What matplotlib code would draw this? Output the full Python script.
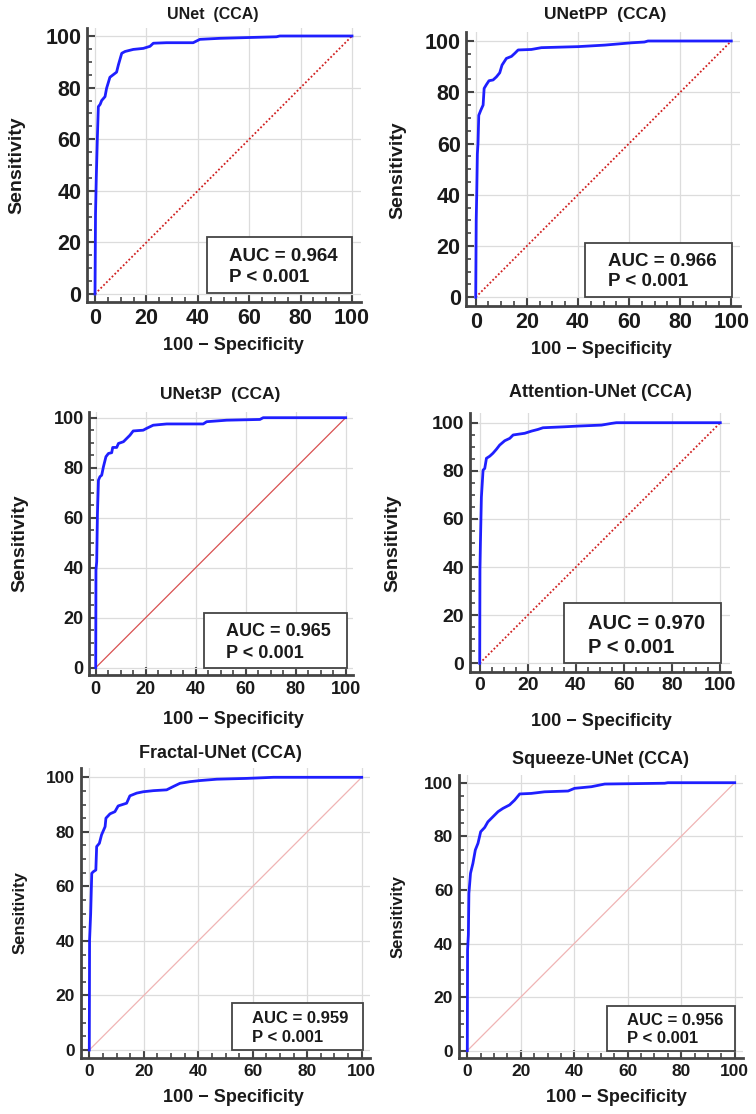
import numpy as np
import matplotlib.pyplot as plt

plt.rcParams['font.family'] = ['Liberation Sans', 'DejaVu Sans']
plt.rcParams['font.weight'] = 'bold'

W, H = 756, 1114

titles = ["UNet  (CCA)", "UNetPP  (CCA)", "UNet3P  (CCA)",
          "Attention-UNet (CCA)", "Fractal-UNet (CCA)", "Squeeze-UNet (CCA)"]
auc_vals = ["0.964", "0.966", "0.965", "0.970", "0.959", "0.956"]

# ROC curves: 100 - specificity, sensitivity
fpr_unet = [0, 0.2, 0.5, 0.9, 1.3, 2.0, 2.6, 3.9, 4.5, 5.8, 7.1, 8.4, 9.1, 10.4, 11.7,
            14.9, 18.8, 21.4, 22.7, 27.8, 38.2, 40.8, 48.6, 70.6, 71.9, 100]
tpr_unet = [0, 31, 45, 60, 72.6, 73.5, 75, 76.5, 79.7, 84, 85, 86, 88.8, 93.3, 94,
            94.8, 95.2, 96, 97.2, 97.4, 97.4, 98.7, 99.1, 99.7, 100, 100]

fpr_unetpp = [0, 0.2, 0.4, 0.65, 0.9, 1.2, 2.0, 2.9, 3.3, 4.2, 5.2, 6.8, 8.1, 9.4, 10.3,
              12.0, 14.0, 15.3, 16.6, 21.8, 25.7, 40.0, 50.5, 61.0, 66.0, 67.4, 100]
tpr_unetpp = [0, 30, 40, 56, 60, 71, 73, 75, 81.5, 83, 84.5, 84.8, 86, 87.6, 90.6,
              93.2, 94, 95.2, 96.5, 96.7, 97.4, 97.8, 98.4, 99.3, 99.6, 100, 100]

fpr_unet3p = [0, 0.1, 0.4, 0.7, 1.1, 1.7, 2.4, 3.1, 4.1, 5.1, 6.4, 6.8, 8.4, 9.1, 11.1,
              12.4, 13.7, 15.0, 19.0, 20.3, 23.0, 28.4, 43.0, 44.4, 52.4, 65.7, 67.0, 100]
tpr_unet3p = [0, 39, 42.4, 61.7, 75, 76.4, 77, 80.4, 84.4, 85.7, 86, 88.1, 88.1, 89.7, 90.4,
              91.7, 93, 94.7, 95, 95.7, 97, 97.5, 97.5, 98.4, 99, 99.3, 100, 100]

fpr_attn = [0, 0.1, 0.3, 0.7, 1.4, 2.1, 2.8, 4.2, 5.5, 6.9, 8.3, 10.4, 12.5, 13.9, 18.7,
            21.5, 24.2, 26.3, 35.3, 40.9, 50.6, 54.7, 56.8, 100]
tpr_attn = [0, 38.8, 49.9, 69, 80.3, 81, 85.2, 86.1, 87.3, 88.9, 90.7, 92.5, 93.5, 94.9, 95.6,
            96.5, 97.2, 97.9, 98.3, 98.6, 99, 99.7, 100, 100]

fpr_fractal = [0, 0.1, 0.5, 0.9, 1.5, 2.4, 2.7, 3.7, 4.5, 5.8, 6.1, 7.6, 9.4, 10.6, 13.7,
               14.9, 17.4, 19.8, 23.5, 28.4, 30.8, 33.3, 37.0, 40.6, 46.8, 57.8, 67.6, 100]
tpr_fractal = [0, 40.3, 50, 64.8, 65.4, 66, 74.6, 75.8, 78.9, 81.9, 85, 86.6, 87.4, 89.5, 90.5,
               93.2, 94.2, 94.7, 95.1, 95.4, 96.6, 97.8, 98.4, 98.8, 99.3, 99.6, 100, 100]

fpr_squeeze = [0, 0.1, 0.4, 0.6, 1.2, 2.1, 3.0, 4.0, 5.0, 6.5, 7.7, 9.6, 11.5, 13.3, 15.8,
               17.7, 19.6, 23.9, 28.9, 37.7, 40.1, 46.4, 51.4, 73.8, 75.0, 100]
tpr_squeeze = [0, 37.6, 43.2, 58.7, 66.2, 69.9, 74.9, 77.4, 81.7, 83.3, 85.4, 87.3, 89.2, 90.4, 91.7,
               93.5, 95.8, 96, 96.6, 96.9, 97.9, 98.5, 99.5, 99.8, 100, 100]

curves = [(fpr_unet, tpr_unet), (fpr_unetpp, tpr_unetpp), (fpr_unet3p, tpr_unet3p),
          (fpr_attn, tpr_attn), (fpr_fractal, tpr_fractal), (fpr_squeeze, tpr_squeeze)]

# layout in pixels: x of data 0, x of data 100, y of data 100, y of data 0, xlim, ylim
layout = [
    dict(px=(95, 352, 36, 294), xl=(-3.1, 103.5), yl=(-3.1, 103.1), tick=15.5, auc=13.5,
         box=(43.6, 0.4, 56.4, 21.6), title=(213, 15, 11.5), ylab=(17, 165, 14), xlab=(233, 345, 13),
         diag='dot'),
    dict(px=(475.7, 731.3, 41, 297.3), xl=(-3.7, 103.3), yl=(-3.4, 103.6), tick=15.5, auc=13.5,
         box=(42.9, 0.3, 57.2, 21.0), title=(605, 15, 12.5), ylab=(398, 170, 14), xlab=(601, 350, 13),
         diag='dot'),
    dict(px=(95.7, 345.7, 417.7, 667.7), xl=(-2.6, 102.8), yl=(-2.9, 102.4), tick=13, auc=13,
         box=(43.3, 0.0, 57.4, 21.7), title=(220, 395, 12.5), ylab=(20, 543, 14), xlab=(233, 720, 13),
         diag='thin'),
    dict(px=(479.7, 720.3, 422.7, 663.3), xl=(-4.2, 103.9), yl=(-3.5, 103.9), tick=14, auc=14.5,
         box=(35.0, 0.0, 65.1, 24.9), title=(600, 393, 13), ylab=(393, 543, 14), xlab=(601, 722, 13),
         diag='dot'),
    dict(px=(89.3, 361.7, 777.3, 1050), xl=(-3.2, 103.1), yl=(-3.0, 103.3), tick=12.5, auc=12,
         box=(52.5, 0.0, 47.9, 17.3), title=(220, 753, 13), ylab=(20, 913, 12), xlab=(233, 1098, 13),
         diag='pink'),
    dict(px=(467.3, 734.7, 782.7, 1050.7), xl=(-3.2, 103.1), yl=(-2.8, 102.9), tick=12.5, auc=12,
         box=(52.4, 0.0, 47.8, 16.8), title=(600, 760, 13), ylab=(398, 917, 12), xlab=(616, 1098, 13),
         diag='pink'),
]

fig = plt.figure(figsize=(W / 100, H / 100), dpi=100)

for i, lay in enumerate(layout):
    x0, x100, y100, y0 = lay['px']
    ux = (x100 - x0) / 100.0
    uy = (y0 - y100) / 100.0
    left = x0 + lay['xl'][0] * ux
    right = x0 + lay['xl'][1] * ux
    bottom = y0 - lay['yl'][0] * uy
    top = y0 - lay['yl'][1] * uy
    ax = fig.add_axes([left / W, 1 - bottom / H, (right - left) / W, (bottom - top) / H])
    ax.set_xlim(*lay['xl'])
    ax.set_ylim(*lay['yl'])

    ax.set_xticks(np.arange(0, 101, 20))
    ax.set_yticks(np.arange(0, 101, 20))
    ax.set_xticks(np.arange(0, 101, 5), minor=True)
    ax.set_yticks(np.arange(0, 101, 5), minor=True)
    ax.grid(True, which='major', color='#dcdcdc', lw=0.9)
    ax.set_axisbelow(True)
    ax.tick_params(which='major', direction='in', length=6, width=1.5, color='#444444',
                   labelsize=lay['tick'], labelcolor='#1a1a1a', pad=4)
    ax.tick_params(which='minor', direction='in', length=3.5, width=1.2, color='#444444')
    for lbl in ax.get_xticklabels() + ax.get_yticklabels():
        lbl.set_fontweight('bold')
    for s in ['top', 'right']:
        ax.spines[s].set_visible(False)
    for s in ['left', 'bottom']:
        ax.spines[s].set_color('#444444')
        ax.spines[s].set_linewidth(2)

    if lay['diag'] == 'dot':
        ax.plot([0, 100], [0, 100], color='#d02020', lw=1.3, ls=(0, (1, 1.2)))
    elif lay['diag'] == 'thin':
        ax.plot([0, 100], [0, 100], color='#d85050', lw=0.9)
    else:
        ax.plot([0, 100], [0, 100], color='#f0b4b4', lw=0.9)

    fpr, tpr = curves[i]
    ax.plot(fpr, tpr, color='#1f1fff', lw=2.0, solid_joinstyle='round', clip_on=False, zorder=5)

    bx, by, bw, bh = lay['box']
    ax.add_patch(plt.Rectangle((bx, by), bw, bh, fill=True, facecolor='white',
                               edgecolor='#444444', lw=1.3, zorder=6))
    ax.text(bx + 0.085 * 100 * bw / 56, by + bh * 0.66, "AUC = " + auc_vals[i],
            fontsize=lay['auc'], fontweight='bold', color='#1a1a1a', va='center', zorder=7)
    ax.text(bx + 0.085 * 100 * bw / 56, by + bh * 0.27, "P < 0.001",
            fontsize=lay['auc'], fontweight='bold', color='#1a1a1a', va='center', zorder=7)

    tx, ty, ts = lay['title']
    fig.text(tx / W, 1 - ty / H, titles[i], ha='center', va='center', fontsize=ts,
             fontweight='bold', color='#1a1a1a')
    lx, ly, ls_ = lay['ylab']
    fig.text(lx / W, 1 - ly / H, "Sensitivity", ha='center', va='center', rotation=90,
             fontsize=ls_, fontweight='bold', color='#1a1a1a')
    xx, xy, xs = lay['xlab']
    fig.text(xx / W, 1 - xy / H, "100 \u2212 Specificity", ha='center', va='center',
             fontsize=xs, fontweight='bold', color='#1a1a1a')

fig.savefig('out.png', dpi=100, facecolor='white')
